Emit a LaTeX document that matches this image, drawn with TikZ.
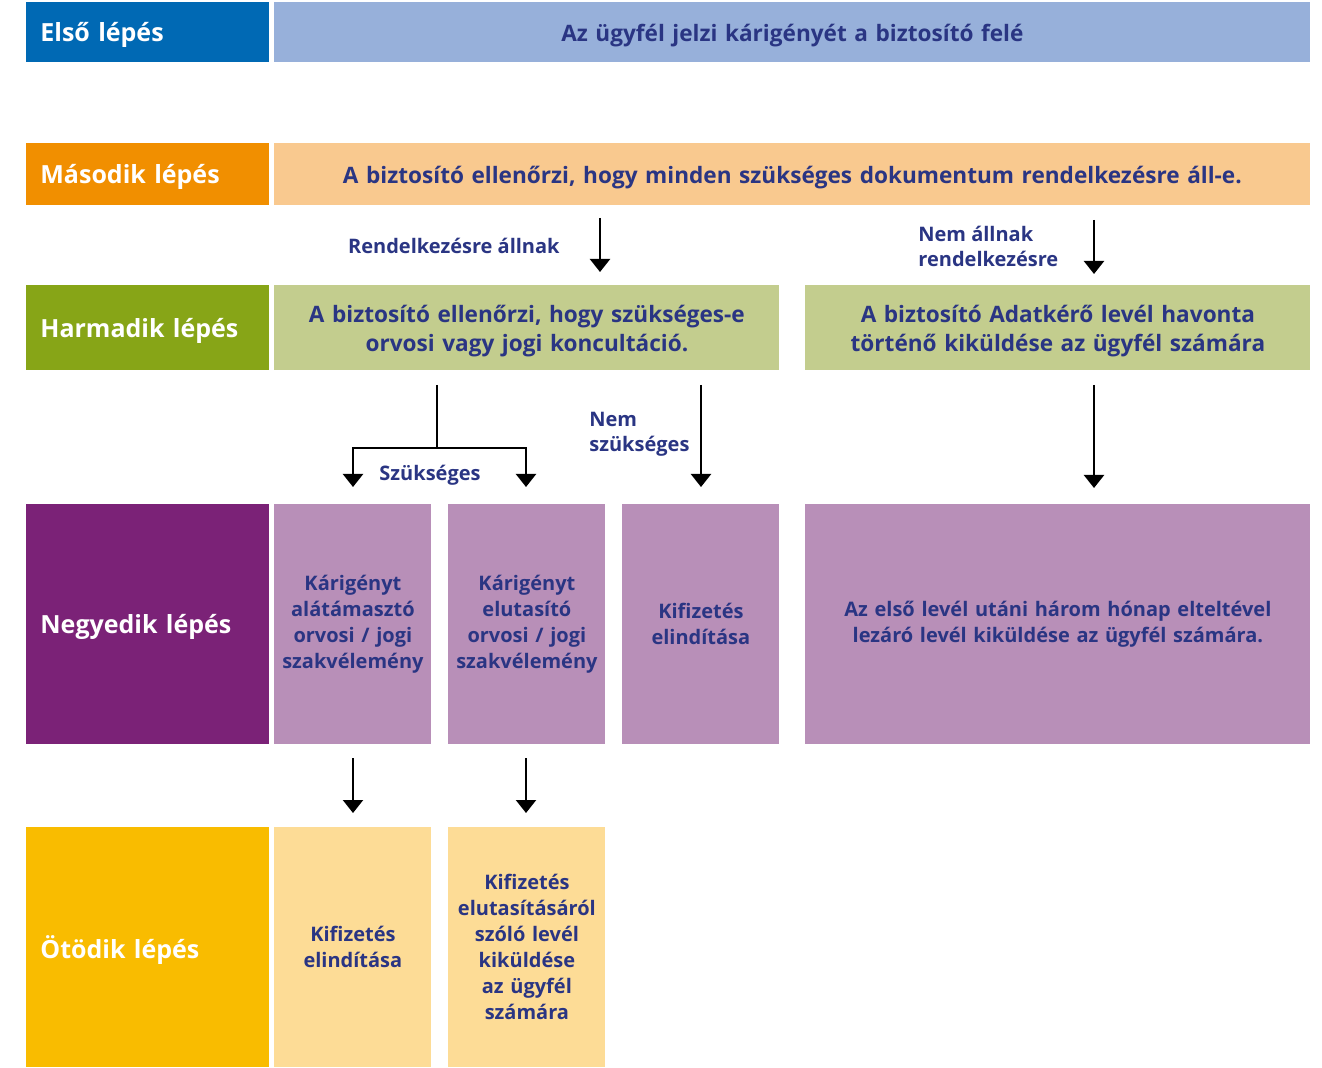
\documentclass[tikz,border=0pt]{standalone}
\usepackage{fontspec}
\setmainfont{Open Sans}
\usepackage{xcolor}
\usepackage{tikz}
\usetikzlibrary{arrows.meta, positioning}

\definecolor{stepblue}{HTML}{0069B4}
\definecolor{boxblue}{HTML}{97B0DA}
\definecolor{steporange}{HTML}{F18F00}
\definecolor{boxorange}{HTML}{F9C98F}
\definecolor{stepgreen}{HTML}{87A517}
\definecolor{boxgreen}{HTML}{C3CD8E}
\definecolor{steppurple}{HTML}{7B2277}
\definecolor{boxpurple}{HTML}{B88FB8}
\definecolor{stepyellow}{HTML}{F9BC00}
\definecolor{boxyellow}{HTML}{FDDC96}
\definecolor{textnavy}{HTML}{2A3583}

\begin{document}
\begin{tikzpicture}[
        x=0.5pt, y=-0.5pt, % one unit = one pixel of the layout
        steplabel/.style={rectangle, anchor=north west, inner xsep=7pt, inner ysep=0pt,
                          text width=107.5pt, align=left, text=white, text depth=0pt,
                          font=\bfseries\fontsize{12.5}{14}\selectfont},
        box/.style={rectangle, anchor=north west, inner sep=0pt, align=center, text=textnavy,
                    text depth=0pt, font=\bfseries\fontsize{11.3}{14.5}\selectfont},
        twoline/.style={box, text width=252.5pt, minimum height=42.5pt, text depth=14.5pt},
        narrow/.style={box, text width=78.5pt, minimum height=120pt, text depth=,
                       font=\bfseries\fontsize{10}{13}\selectfont},
        branchlabel/.style={text=textnavy, inner sep=0pt, align=left,
                            font=\bfseries\fontsize{10}{12.5}\selectfont},
        link/.style={line width=1.1pt},
        arrow/.style={link, -{Triangle[length=6.5pt, width=10pt]}}
      ]

      \useasboundingbox (0,0) rectangle (1322,1068);

      % Step labels
      \node (step1) [steplabel, fill=stepblue, minimum height=30pt] at (26,2) {Első lépés};
      \node (step2) [steplabel, fill=steporange, minimum height=31pt] at (26,143) {Második lépés};
      \node (step3) [steplabel, fill=stepgreen, minimum height=42.5pt] at (26,285) {Harmadik lépés};
      \node (step4) [steplabel, fill=steppurple, minimum height=120pt] at (26,504) {Negyedik lépés};
      \node (step5) [steplabel, fill=stepyellow, minimum height=120pt] at (26,827) {Ötödik lépés};

      % Rows 1-3
      \node (claim) [box, fill=boxblue, text width=518pt, minimum height=30pt] at (274,2)
            {Az ügyfél jelzi kárigényét a biztosító felé};
      \node (docs) [box, fill=boxorange, text width=518pt, minimum height=31pt] at (274,143)
            {A biztosító ellenőrzi, hogy minden szükséges dokumentum rendelkezésre áll-e.};
      \node (consult) [twoline, fill=boxgreen] at (274,285)
            {A biztosító ellenőrzi, hogy szükséges-e\\orvosi vagy jogi koncultáció.};
      \node (request) [twoline, fill=boxgreen] at (805,285)
            {A biztosító Adatkérő levél havonta\\történő kiküldése az ügyfél számára};

      % Row 4
      \node (support) [narrow, fill=boxpurple] at (274,504)
            {Kárigényt\\alátámasztó\\orvosi / jogi\\szakvélemény};
      \node (reject) [narrow, fill=boxpurple] at (448,504)
            {Kárigényt\\elutasító\\orvosi / jogi\\szakvélemény};
      \node (pay4) [narrow, fill=boxpurple] at (622,504)
            {Kifizetés\\elindítása};
      \node (closing) [narrow, fill=boxpurple, text width=252.5pt] at (805,504)
            {Az első levél utáni három hónap elteltével\\lezáró levél kiküldése az ügyfél számára.};

      % Row 5
      \node (pay5) [narrow, fill=boxyellow] at (274,827)
            {Kifizetés\\elindítása};
      \node (rejectletter) [narrow, fill=boxyellow] at (448,827)
            {Kifizetés\\elutasításáról\\szóló levél\\kiküldése\\az ügyfél\\számára};

      % Branch labels
      \node (avail) [branchlabel, anchor=east] at (560,246) {Rendelkezésre állnak};
      \node (notavail) [branchlabel, anchor=west] at (918,246) {Nem állnak\\rendelkezésre};
      \node (needed) [branchlabel] at (430,475) {Szükséges};
      \node (notneeded) [branchlabel, anchor=west] at (589,434) {Nem\\szükséges};

      % Arrow end points
      \coordinate (availtop) at (600,218);
      \coordinate (availend) at (600,272);
      \coordinate (notavailtop) at (1094,220);
      \coordinate (notavailend) at (1094,274);
      \coordinate (splittop) at (437,385);
      \coordinate (splitjoin) at (437,448);
      \coordinate (supportend) at (353,487);
      \coordinate (rejectend) at (526,487);
      \coordinate (notneededtop) at (701,385);
      \coordinate (notneededend) at (701,487);
      \coordinate (requesttop) at (1094,385);
      \coordinate (requestend) at (1094,488);
      \coordinate (supporttop) at (353,758);
      \coordinate (supportnext) at (353,813);
      \coordinate (rejecttop) at (526,758);
      \coordinate (rejectnext) at (526,813);

      % Arrows
      \draw [arrow] (availtop) -- (availend);
      \draw [arrow] (notavailtop) -- (notavailend);
      \draw [link] (splittop) -- (splitjoin);
      \draw [arrow] (splitjoin) -| (supportend);
      \draw [arrow] (splitjoin) -| (rejectend);
      \draw [arrow] (notneededtop) -- (notneededend);
      \draw [arrow] (requesttop) -- (requestend);
      \draw [arrow] (supporttop) -- (supportnext);
      \draw [arrow] (rejecttop) -- (rejectnext);

    \end{tikzpicture}
\end{document}
